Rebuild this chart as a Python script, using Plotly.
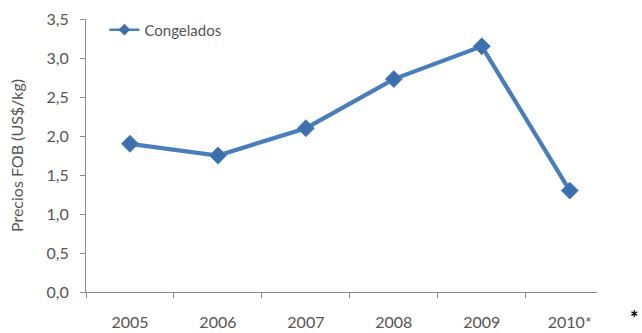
import plotly.graph_objects as go

# Export FOB prices for frozen product, by year
years = ["2005", "2006", "2007", "2008", "2009", "2010*"]
congelados = [1.9, 1.75, 2.1, 2.73, 3.15, 1.3]
y_ticks = [0.0, 0.5, 1.0, 1.5, 2.0, 2.5, 3.0, 3.5]

W, H = 642, 333
L, R, T, B = 86, 45, 19, 41

FONT = "Lato"
GREY = "#555555"
AXIS = "#8c8c8c"
LINE = "#4a7ebb"
MARK = "#3d6fad"

fig = go.Figure()
fig.add_trace(go.Scatter(
    x=years, y=congelados, name="Congelados", mode="lines+markers",
    line=dict(color=LINE, width=4.2),
    marker=dict(symbol="diamond", size=13, color=MARK,
                line=dict(color=LINE, width=1)),
    showlegend=False,
))
# legend entry with a lighter line and smaller diamond
fig.add_trace(go.Scatter(
    x=[None], y=[None], name="Congelados", mode="lines+markers",
    line=dict(color=LINE, width=2.5),
    marker=dict(symbol="diamond", size=9, color=MARK),
    showlegend=True,
))

fig.update_layout(
    width=W, height=H,
    margin=dict(l=L, r=R, t=T, b=B, pad=0, autoexpand=False),
    paper_bgcolor="white", plot_bgcolor="white",
    separators=",.",
    font=dict(family=FONT, size=16, color=GREY),
    legend=dict(x=0.036, y=0.96, xanchor="left", yanchor="middle",
                bgcolor="rgba(0,0,0,0)", font=dict(size=15, color=GREY),
                itemwidth=30),
)

fig.update_xaxes(
    type="category", range=[-0.5, 5.31], automargin=False,
    showgrid=False, showline=True, linecolor=AXIS, linewidth=1,
    ticks="outside", tickson="boundaries", ticklen=5, tickcolor=AXIS,
    ticklabelstandoff=16, zeroline=False,
)
fig.update_yaxes(
    range=[0, 3.5], tickvals=y_ticks, tickformat=".1f", automargin=False,
    showgrid=False, showline=True, linecolor=AXIS, linewidth=1,
    ticks="outside", ticklen=5, tickcolor=AXIS, ticklabelstandoff=8,
    zeroline=False,
    title=dict(text="Precios FOB (US$/kg)", standoff=18,
               font=dict(size=16, color=GREY)),
)

fig.add_annotation(text="<b>*</b>", xref="paper", yref="paper",
                   x=(641 - L) / (W - L - R), xanchor="right",
                   y=-(332 - (H - B)) / (H - T - B), yanchor="bottom",
                   showarrow=False, font=dict(size=20, color="black"))

fig.write_html("out.html")
